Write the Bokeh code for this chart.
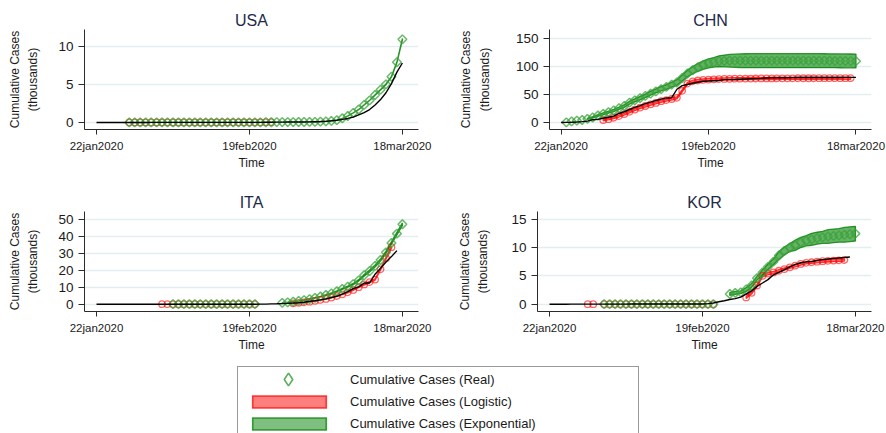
import numpy as np
from bokeh.plotting import figure
from bokeh.models import Range1d, FixedTicker, Legend, LegendItem
from bokeh.layouts import column, row
from bokeh.embed import file_html
from bokeh.resources import INLINE

FONT = "Liberation Sans"

# x axis: day index since 22jan2020
X_TICKS = [0, 28, 56]
X_TICK_LABELS = ["22jan2020", "19feb2020", "18mar2020"]

LEGEND_LABELS = ["Cumulative Cases (Real)", "Cumulative Cases (Logistic)",
                 "Cumulative Cases (Exponential)"]

# ---------------- USA (thousands) ----------------
USA_REAL = [
    0.001, 0.001, 0.002, 0.002, 0.005, 0.005, 0.005, 0.005, 0.005, 0.006,
    0.008, 0.008, 0.011, 0.011, 0.011, 0.012, 0.012, 0.012, 0.012, 0.012,
    0.013, 0.013, 0.014, 0.014, 0.015, 0.015, 0.015, 0.015, 0.015, 0.015,
    0.015, 0.035, 0.035, 0.051, 0.051, 0.057, 0.058, 0.060, 0.068, 0.074,
    0.100, 0.120, 0.150, 0.220, 0.300, 0.400, 0.530, 0.700, 1.000, 1.300,
    1.700, 2.300, 3.000, 3.900, 5.100, 6.600, 7.800]
USA_LOGIT_START = 6
USA_LOGIT = [
    0.005, 0.005, 0.005, 0.006, 0.008, 0.008, 0.011, 0.011, 0.011, 0.012,
    0.012, 0.012, 0.012, 0.012, 0.013, 0.013, 0.014, 0.014, 0.015, 0.015,
    0.015, 0.015, 0.015, 0.015, 0.015, 0.035, 0.035]
USA_EXP_START = 6
USA_EXP = [
    0.005, 0.005, 0.005, 0.006, 0.008, 0.008, 0.011, 0.011, 0.011, 0.012,
    0.012, 0.012, 0.012, 0.012, 0.013, 0.013, 0.014, 0.014, 0.015, 0.015,
    0.015, 0.015, 0.015, 0.015, 0.015, 0.035, 0.035, 0.051, 0.051, 0.057,
    0.058, 0.060, 0.068, 0.074, 0.090, 0.110, 0.140, 0.200, 0.300, 0.550,
    0.850, 1.250, 1.700, 2.300, 2.900, 3.600, 4.300, 5.000, 6.000, 7.900, 10.900]
USA_EXP_BAND_START = 39
USA_EXP_LO = [0.073, 0.089, 0.109, 0.139, 0.198, 0.297, 0.545, 0.842, 1.238, 1.684,
              2.278, 2.871, 3.564, 4.257, 4.950, 5.940, 7.821, 10.791]
USA_EXP_HI = [0.075, 0.091, 0.111, 0.141, 0.202, 0.303, 0.555, 0.858, 1.262, 1.716,
              2.322, 2.929, 3.636, 4.343, 5.050, 6.060, 7.979, 11.009]

# ---------------- CHN ----------------
CHN_REAL = [
    0.548, 0.643, 0.920, 1.406, 2.075, 2.877, 5.509, 6.087, 8.141, 9.802,
    11.891, 16.630, 19.716, 23.707, 27.440, 30.587, 34.110, 36.814, 39.829, 42.354,
    44.386, 44.759, 59.895, 66.358, 68.413, 70.513, 72.434, 74.211, 74.619, 75.077,
    75.550, 77.001, 77.022, 77.241, 77.754, 78.166, 78.600, 78.928, 79.356, 79.932,
    80.136, 80.261, 80.386, 80.537, 80.690, 80.770, 80.823, 80.860, 80.887, 80.921,
    80.932, 80.945, 80.977, 81.003, 81.033, 81.058, 81.102]
CHN_LOGIT_START = 8
CHN_LOGIT = [
    5.0, 6.5, 9.0, 12.0, 15.5, 19.5, 23.5, 27.0, 30.0, 33.0,
    35.5, 38.5, 40.5, 42.5, 44.5, 57.0, 70.0, 74.0, 75.5, 76.5,
    77.2, 77.6, 78.0, 78.3, 78.5, 78.7, 78.8, 78.9, 79.0, 79.1,
    79.2, 79.2, 79.3, 79.3, 79.4, 79.4, 79.4, 79.5, 79.5, 79.5,
    79.5, 79.6, 79.6, 79.6, 79.6, 79.6, 79.6, 79.6]
CHN_LOGIT_BAND_START = 8
CHN_LOGIT_LO = [
    3.6, 5.0, 7.4, 10.3, 13.8, 17.7, 21.6, 25.1, 28.1, 31.1,
    33.6, 36.6, 38.6, 40.6, 42.6, 55.0, 68.0, 72.0, 73.5, 74.5,
    75.2, 75.6, 76.0, 76.3, 76.5, 76.7, 76.8, 76.9, 77.0, 77.1,
    77.2, 77.2, 77.3, 77.3, 77.4, 77.4, 77.4, 77.5, 77.5, 77.5,
    77.5, 77.6, 77.6, 77.6, 77.6, 77.6, 77.6, 77.6]
CHN_LOGIT_HI = [
    6.4, 8.0, 10.6, 13.7, 17.2, 21.3, 25.4, 28.9, 31.9, 34.9,
    37.4, 40.4, 42.4, 44.4, 46.4, 59.0, 72.0, 76.0, 77.5, 78.5,
    79.2, 79.6, 80.0, 80.3, 80.5, 80.7, 80.8, 80.9, 81.0, 81.1,
    81.2, 81.2, 81.3, 81.3, 81.4, 81.4, 81.4, 81.5, 81.5, 81.5,
    81.5, 81.6, 81.6, 81.6, 81.6, 81.6, 81.6, 81.6]
CHN_EXP_START = 1
CHN_EXP = [
    0.8, 2.5, 3.8, 5.0, 7.0, 9.5, 13.0, 16.0, 19.0, 22.0,
    26.0, 30.0, 36.0, 40.0, 44.0, 48.0, 52.0, 56.0, 60.0, 64.0,
    68.0, 72.0, 80.0, 88.0, 94.0, 99.0, 103.0, 106.0, 108.0, 110.0,
    110.5, 111.0, 111.0, 111.0, 111.0, 111.0, 111.0, 111.0, 111.0, 111.0,
    111.0, 111.0, 111.0, 111.0, 111.0, 111.0, 111.0, 111.0, 111.0, 111.0,
    110.8, 110.6, 110.5, 110.4, 110.2, 110.0]
CHN_EXP_BAND_START = 5
CHN_EXP_LO = [
    6.0, 8.2, 11.5, 14.3, 17.2, 20.0, 23.8, 27.6, 33.4, 37.2,
    41.0, 44.8, 49.5, 53.3, 57.0, 59.8, 63.5, 67.0, 74.5, 82.0,
    87.5, 92.0, 95.5, 98.0, 99.5, 100.5, 100.0, 99.5, 99.0, 98.7,
    98.5, 98.5, 98.5, 98.5, 98.5, 98.5, 98.5, 98.5, 98.5, 98.5,
    98.5, 98.5, 98.5, 98.5, 98.5, 98.5, 98.5, 98.4, 98.3, 98.2,
    98.1, 98.0]
CHN_EXP_HI = [
    8.0, 10.8, 14.5, 17.7, 20.8, 24.0, 28.2, 32.4, 38.6, 42.8,
    47.0, 51.2, 56.5, 60.7, 65.0, 68.2, 72.5, 77.0, 85.5, 94.0,
    100.5, 106.0, 110.5, 114.0, 116.5, 119.5, 121.0, 122.0, 122.5, 123.0,
    123.3, 123.5, 123.5, 123.5, 123.5, 123.5, 123.5, 123.5, 123.5, 123.5,
    123.5, 123.5, 123.5, 123.5, 123.4, 123.3, 123.2, 123.1, 123.0, 122.9,
    122.8, 122.7]

# ---------------- ITA ----------------
ITA_REAL = [
    0.0, 0.0, 0.0, 0.0, 0.0, 0.0, 0.0, 0.0, 0.0, 0.002,
    0.002, 0.002, 0.002, 0.002, 0.002, 0.002, 0.003, 0.003, 0.003, 0.003,
    0.003, 0.003, 0.003, 0.003, 0.003, 0.003, 0.003, 0.003, 0.003, 0.003,
    0.020, 0.062, 0.155, 0.229, 0.322, 0.453, 0.655, 0.888, 1.128, 1.694,
    2.036, 2.502, 3.089, 3.858, 4.636, 5.883, 7.375, 9.172, 10.149, 12.462,
    12.462, 17.660, 21.157, 24.747, 27.980, 31.506]
ITA_LOGIT_START = 12
ITA_LOGIT = [
    0.0, 0.0, 0.0, 0.0, 0.0, 0.0, 0.0, 0.0, 0.0, 0.0,
    0.0, 0.0, 0.0, 0.0, 0.0, 0.0, 0.0, 0.0,
    None, None, None, None, None, None,
    0.5, 0.8, 1.1, 1.5, 2.0, 2.5, 3.1, 3.9, 4.8, 5.8,
    7.0, 8.4, 10.0, 11.6, 13.0, 14.5, 20.5, 27.0, 33.5]
ITA_LOGIT_BAND_START = 36
ITA_LOGIT_LO = [0.4, 0.7, 1.0, 1.4, 1.85, 2.35, 2.95, 3.7, 4.6, 5.55,
                6.7, 8.1, 9.65, 11.2, 12.6, 14.05, 20.0, 26.4, 32.85]
ITA_LOGIT_HI = [0.6, 0.9, 1.2, 1.6, 2.15, 2.65, 3.25, 4.1, 5.0, 6.05,
                7.3, 8.7, 10.35, 12.0, 13.4, 14.95, 21.0, 27.6, 34.15]
ITA_EXP_START = 14
ITA_EXP = [
    0.0, 0.0, 0.0, 0.0, 0.0, 0.0, 0.0, 0.0, 0.0, 0.0,
    0.0, 0.0, 0.0, 0.0, 0.0, 0.0,
    None, None, None, None,
    0.8, 1.1, 1.5, 1.9, 2.4, 3.0, 3.7, 4.5, 5.4, 6.4,
    7.6, 9.0, 10.3, 11.8, 14.0, 17.0, 19.5, 22.5, 26.0, 30.5,
    36.0, 41.5, 47.0]
ITA_EXP_BAND_START = 34
ITA_EXP_LO = [0.7, 1.0, 1.4, 1.8, 2.3, 2.9, 3.55, 4.35, 5.2, 6.2,
              7.35, 8.7, 9.95, 11.4, 13.55, 16.5, 18.95, 21.9, 25.35, 29.8,
              35.25, 40.7, 46.2]
ITA_EXP_HI = [0.9, 1.2, 1.6, 2.0, 2.5, 3.1, 3.85, 4.65, 5.6, 6.6,
              7.85, 9.3, 10.65, 12.2, 14.45, 17.5, 20.05, 23.1, 26.65, 31.2,
              36.75, 42.3, 47.8]

# ---------------- KOR ----------------
KOR_REAL = [
    0.001, 0.001, 0.002, 0.002, 0.003, 0.004, 0.004, 0.004, 0.004, 0.011,
    0.012, 0.015, 0.015, 0.016, 0.019, 0.023, 0.024, 0.024, 0.025, 0.027,
    0.028, 0.028, 0.028, 0.028, 0.028, 0.029, 0.030, 0.031, 0.031, 0.104,
    0.204, 0.433, 0.602, 0.833, 0.977, 1.261, 1.766, 2.337, 3.150, 3.736,
    4.335, 5.186, 5.621, 6.088, 6.593, 7.041, 7.314, 7.478, 7.513, 7.755,
    7.869, 7.979, 8.086, 8.162, 8.236, 8.320]
KOR_LOGIT_START = 7
KOR_LOGIT = [
    0.0, 0.0, None,
    0.0, 0.0, 0.0, 0.0, 0.0, 0.0, 0.0, 0.0, 0.0, 0.0,
    0.0, 0.0, 0.0, 0.0, 0.0, 0.0, 0.0, 0.0, 0.0, 0.0,
    0.0, None, None, None, None, None,
    1.2, 2.0, 3.3, 5.0, 5.4, 5.6, 5.9, 6.2, 6.5, 6.8,
    7.1, 7.3, 7.4, 7.5, 7.6, 7.65, 7.7, 7.75, 7.8]
KOR_LOGIT_BAND_START = 36
KOR_LOGIT_LO = [1.0, 1.8, 3.1, 4.8, 5.2, 5.4, 5.7, 6.0, 6.3, 6.6,
                6.9, 7.1, 7.2, 7.3, 7.4, 7.45, 7.5, 7.55, 7.6]
KOR_LOGIT_HI = [1.4, 2.2, 3.5, 5.2, 5.6, 5.8, 6.1, 6.4, 6.7, 7.0,
                7.3, 7.5, 7.6, 7.7, 7.8, 7.85, 7.9, 7.95, 8.0]
KOR_EXP_START = 10
KOR_EXP = [
    0.0, 0.0, 0.0, 0.0, 0.0, 0.0, 0.0, 0.0, 0.0, 0.0,
    0.0, 0.0, 0.0, 0.0, 0.0, 0.0, 0.0, 0.0, 0.0, 0.0,
    0.0, None, None,
    1.8, 2.0, 2.1, 2.6, 3.3, 4.6, 5.6, 6.6, 7.5, 8.6,
    9.4, 10.0, 10.4, 10.9, 11.2, 11.45, 11.65, 11.8, 11.95, 12.05,
    12.15, 12.25, 12.35, 12.45]
KOR_EXP_BAND_START = 33
KOR_EXP_LO = [1.55, 1.75, 1.85, 2.25, 2.95, 4.25, 5.1, 6.1, 7.0, 7.9,
              8.7, 9.3, 9.5, 10.0, 10.3, 10.4, 10.6, 10.75, 10.75, 10.85,
              10.95, 10.95, 11.05, 11.15]
KOR_EXP_HI = [2.05, 2.25, 2.35, 2.95, 3.65, 4.95, 6.1, 7.1, 8.0, 9.3,
              10.1, 10.7, 11.3, 11.8, 12.1, 12.5, 12.7, 12.85, 13.15, 13.25,
              13.35, 13.55, 13.65, 13.75]

# ---------------- styles ----------------
RED = "#ff0000"
GREEN = "#008000"
DIAMOND_COLOR = "#3aa23a"
TEXT_COLOR = "#1a1a1a"
TITLE_COLOR = "#1c2a48"
GRID_COLOR = "#e4edf0"
AXIS_COLOR = "#2b2b2b"


def pts(start, vals):
    xs, ys = [], []
    for i, v in enumerate(vals):
        if v is not None:
            xs.append(start + i)
            ys.append(v)
    return xs, ys


def band_poly(start, lo, hi):
    xs = [start + i for i in range(len(lo))]
    return xs + xs[::-1], list(hi) + list(lo)[::-1]


def panel(title, y_lo, y_hi, yticks, left, right, lab_standoff,
          real, logit, exp, logit_band=None, exp_band=None):
    p = figure(width=443, height=182, output_backend="svg", toolbar_location=None,
               x_range=Range1d(-2.2, 58.95), y_range=Range1d(y_lo, y_hi),
               min_border_left=left, min_border_right=right,
               min_border_top=29, min_border_bottom=53,
               background_fill_color="white", border_fill_color="white")
    p.outline_line_color = None
    p.title.text = title
    p.title.align = "center"
    p.title.text_font = FONT
    p.title.text_font_size = "16px"
    p.title.text_font_style = "normal"
    p.title.text_color = TITLE_COLOR
    p.title.standoff = 2

    p.xgrid.grid_line_color = None
    p.ygrid.grid_line_color = GRID_COLOR
    p.ygrid.grid_line_width = 1.5

    p.xaxis.ticker = FixedTicker(ticks=X_TICKS)
    p.xaxis.major_label_overrides = {t: l for t, l in zip(X_TICKS, X_TICK_LABELS)}
    p.yaxis.ticker = FixedTicker(ticks=yticks)
    p.ygrid.ticker = FixedTicker(ticks=yticks)
    for ax in (p.xaxis, p.yaxis):
        ax.axis_line_color = AXIS_COLOR
        ax.axis_line_width = 1
        ax.major_tick_line_color = AXIS_COLOR
        ax.major_tick_in = 0
        ax.minor_tick_line_color = None
        ax.major_label_text_font = FONT
        ax.major_label_text_color = TEXT_COLOR
        ax.axis_label_text_font = FONT
        ax.axis_label_text_font_style = "normal"
        ax.axis_label_text_color = TEXT_COLOR
    p.xaxis.major_tick_out = 5
    p.xaxis.major_label_text_font_size = "11.5px"
    p.xaxis.major_label_standoff = 5
    p.xaxis.axis_label = "Time"
    p.xaxis.axis_label_text_font_size = "12px"
    p.xaxis.axis_label_standoff = 1
    p.yaxis.major_tick_out = 6
    p.yaxis.major_label_text_font_size = "13.5px"
    p.yaxis.major_label_standoff = 5
    p.yaxis.axis_label = "Cumulative Cases\n(thousands)"
    p.yaxis.axis_label_text_font_size = "12px"
    p.yaxis.axis_label_text_line_height = 1.35
    p.yaxis.axis_label_standoff = lab_standoff

    if logit_band is not None:
        bx, by = band_poly(*logit_band)
        p.patch(bx, by, fill_color=RED, fill_alpha=0.55, line_color=RED,
                line_alpha=0.75, line_width=1.3)
    if exp_band is not None:
        bx, by = band_poly(*exp_band)
        p.patch(bx, by, fill_color=GREEN, fill_alpha=0.6, line_color=GREEN,
                line_alpha=0.8, line_width=1.3)
    lx, ly = pts(*logit)
    p.scatter(lx, ly, marker="circle", size=6.5, fill_color=None,
              line_color=RED, line_alpha=0.6, line_width=1.3)
    ex, ey = pts(*exp)
    p.scatter(ex, ey, marker="square", angle=np.pi / 4, size=6.2, fill_color=None,
              line_color=DIAMOND_COLOR, line_alpha=0.75, line_width=1.5)
    rx, ry = pts(0, real)
    p.line(rx, ry, line_color="black", line_width=1.4)
    return p


p_usa = panel("USA", -0.92, 12.19, [0, 5, 10], 84, 25, 15,
              USA_REAL, (USA_LOGIT_START, USA_LOGIT), (USA_EXP_START, USA_EXP),
              None, (USA_EXP_BAND_START, USA_EXP_LO, USA_EXP_HI))
p_chn = panel("CHN", -12.0, 166.6, [0, 50, 100, 150], 106, 15, 21,
              CHN_REAL, (CHN_LOGIT_START, CHN_LOGIT), (CHN_EXP_START, CHN_EXP),
              (CHN_LOGIT_BAND_START, CHN_LOGIT_LO, CHN_LOGIT_HI),
              (CHN_EXP_BAND_START, CHN_EXP_LO, CHN_EXP_HI))
p_ita = panel("ITA", -4.3, 54.5, [0, 10, 20, 30, 40, 50], 84, 25, 15,
              ITA_REAL, (ITA_LOGIT_START, ITA_LOGIT), (ITA_EXP_START, ITA_EXP),
              (ITA_LOGIT_BAND_START, ITA_LOGIT_LO, ITA_LOGIT_HI),
              (ITA_EXP_BAND_START, ITA_EXP_LO, ITA_EXP_HI))
p_kor = panel("KOR", -1.29, 16.36, [0, 5, 10, 15], 94, 15, 18,
              KOR_REAL, (KOR_LOGIT_START, KOR_LOGIT), (KOR_EXP_START, KOR_EXP),
              (KOR_LOGIT_BAND_START, KOR_LOGIT_LO, KOR_LOGIT_HI),
              (KOR_EXP_BAND_START, KOR_EXP_LO, KOR_EXP_HI))

# ---------------- legend strip ----------------
# the frame starts where the legend box starts; the sample renderers sit
# outside the visible range and only feed the legend.
pl = figure(width=886, height=69, output_backend="svg", toolbar_location=None,
            x_axis_type=None, y_axis_type=None, x_range=Range1d(0, 1),
            y_range=Range1d(0, 1), min_border_left=237, min_border_top=2,
            min_border_right=0, min_border_bottom=0, outline_line_color=None,
            background_fill_color="white", border_fill_color="white")
pl.grid.visible = False
r_real_row = pl.scatter(x=[5], y=[5], marker="diamond", size=6,
                        fill_color=None, line_color=None)
r_real = pl.scatter(x=[5], y=[5], marker="diamond", size=12,
                    fill_color=None, line_color=DIAMOND_COLOR, line_alpha=0.85,
                    line_width=1.6)
r_log = pl.patch(x=[5, 6, 6], y=[5, 5, 6], fill_color=RED, fill_alpha=0.5,
                 line_color=RED, line_alpha=0.75, line_width=1.6,
                 line_join="miter")
r_exp = pl.patch(x=[5, 6, 6], y=[5, 5, 6], fill_color=GREEN, fill_alpha=0.5,
                 line_color=GREEN, line_alpha=0.75, line_width=1.6,
                 line_join="miter")
legend = Legend(items=[LegendItem(label=LEGEND_LABELS[0], renderers=[r_real_row]),
                       LegendItem(label=LEGEND_LABELS[1], renderers=[r_log]),
                       LegendItem(label=LEGEND_LABELS[2], renderers=[r_exp])],
                location="top_left", orientation="vertical",
                glyph_width=92, glyph_height=15, label_height=15,
                label_standoff=15, spacing=7, padding=5, margin=0,
                label_width=283, label_text_font=FONT,
                label_text_font_size="13px", label_text_color=TEXT_COLOR,
                border_line_color="#333333", border_line_width=1.5,
                background_fill_color="white", background_fill_alpha=1.0)
pl.add_layout(legend)
# larger diamond sample for the first row (legend markers scale with glyph box)
legend_mark = Legend(items=[LegendItem(label=" ", renderers=[r_real])],
                     location=(35, 38.5), glyph_width=32, glyph_height=32,
                     label_width=0, label_height=0, label_standoff=0,
                     padding=0, margin=0, border_line_color=None,
                     background_fill_alpha=0.0, label_text_font_size="1px")
pl.add_layout(legend_mark)

layout = column(row(p_usa, p_chn), row(p_ita, p_kor), pl)
open("out.html", "w").write(file_html(layout, INLINE))
